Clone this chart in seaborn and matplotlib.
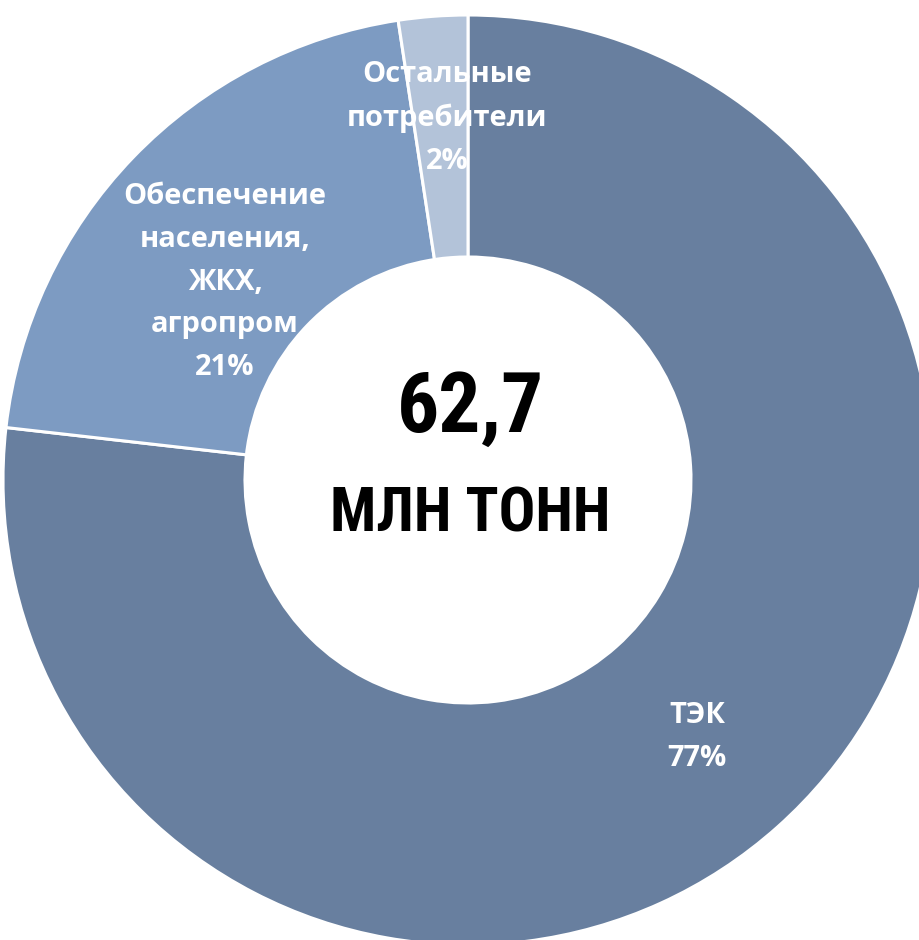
import matplotlib
matplotlib.use("Agg")
import matplotlib.pyplot as plt
import seaborn as sns
from matplotlib import font_manager

sns.set_theme(style="white")
plt.rcParams['font.family'] = ['Open Sans', 'DejaVu Sans']

categories = ["ТЭК", "Обеспечение\nнаселения,\nЖКХ,\nагропром", "Остальные\nпотребители"]
values = [76.8, 20.8, 2.4]
pct_labels = ["77%", "21%", "2%"]
colors = ["#687F9F", "#7D9BC2", "#B3C3D9"]
center_value = "62,7"
center_unit = "млн тонн"

names = {f.name for f in font_manager.fontManager.ttflist}
narrow = [n for n in ['Liberation Sans Narrow', 'Roboto Condensed', 'Arial Narrow',
                      'Noto Sans Display', 'Roboto'] if n in names] + ['DejaVu Sans']

W, H = 920, 940
fig = plt.figure(figsize=(W / 100, H / 100), dpi=100)
cx, cy, R = 468, 480, 465
ax = fig.add_axes([(cx - R) / W, (H - cy - R) / H, 2 * R / W, 2 * R / H])

ax.pie(values, colors=colors, startangle=90, counterclock=False, radius=1,
       wedgeprops=dict(width=1 - 223 / R, edgecolor='white', linewidth=2.2))
ax.set_xlim(-1, 1)
ax.set_ylim(-1, 1)
ax.set_aspect('auto')
ax.axis('off')

def P(px, py):
    return (px - cx) / R, (cy - py) / R

lab_kw = dict(color='white', fontsize=21, fontweight='bold', ha='center', va='center',
              linespacing=1.62)
ax.text(*P(697, 737), categories[0] + "\n" + pct_labels[0], **lab_kw)
ax.text(*P(225, 282), categories[1] + "\n" + pct_labels[1], **lab_kw)
ax.text(*P(447, 118), categories[2] + "\n" + pct_labels[2], **lab_kw)

ax.text(*P(470, 409), center_value, fontsize=60, fontweight='bold', family=narrow,
        fontstretch='condensed', color='black', ha='center', va='center')
ax.text(*P(470, 515), center_unit.upper(), fontsize=44, fontweight='bold', family=narrow,
        fontstretch='condensed', color='black', ha='center', va='center')

fig.savefig("out.png", dpi=100, facecolor='white')
